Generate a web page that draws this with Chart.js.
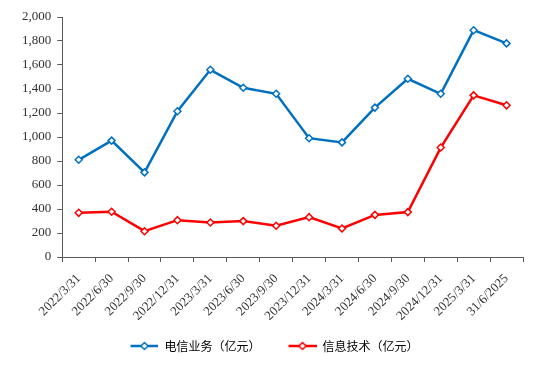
<!DOCTYPE html>
<html>
<head>
<meta charset="utf-8">
<script src="https://cdn.jsdelivr.net/npm/chart.js@4/dist/chart.umd.min.js"></script>
<style>
  html, body { margin: 0; padding: 0; background: #fff; }
  #wrap { width: 543px; height: 365px; }
</style>
</head>
<body>
<div id="wrap"><canvas id="myChart" width="543" height="365"></canvas></div>
<script>
var categories = ['2022/3/31', '2022/6/30', '2022/9/30', '2022/12/31', '2023/3/31', '2023/6/30', '2023/9/30',
  '2023/12/31', '2024/3/31', '2024/6/30', '2024/9/30', '2024/12/31', '2025/3/31', '31/6/2025'];
var telecom = [810, 970, 705, 1215, 1560, 1410, 1360, 990, 955, 1245, 1485, 1360, 1890, 1780];
var infoTech = [368, 377, 215, 307, 288, 299, 260, 332, 238, 351, 374, 912, 1347, 1264];
var seriesNames = ['电信业务（亿元）', '信息技术（亿元）'];
var yTicks = [0, 200, 400, 600, 800, 1000, 1200, 1400, 1600, 1800, 2000];

var blue = '#0070C0';
var red = '#FF0000';
var serif = "'Liberation Serif', 'Times New Roman', serif";

// legend icon: some blank space, then a line with a hollow diamond
function legendIcon(color) {
  var c = document.createElement('canvas');
  c.width = 38; c.height = 10;
  var g = c.getContext('2d');
  g.strokeStyle = color;
  g.lineWidth = 2.5;
  g.beginPath(); g.moveTo(10, 5); g.lineTo(38, 5); g.stroke();
  g.fillStyle = '#fff';
  g.lineWidth = 1.5;
  g.beginPath();
  g.moveTo(24, 1.5); g.lineTo(27.5, 5); g.lineTo(24, 8.5); g.lineTo(20.5, 5); g.closePath();
  g.fill(); g.stroke();
  return c;
}

var ctx = document.getElementById('myChart').getContext('2d');
var myChart = new Chart(ctx, {
  type: 'line',
  data: {
    labels: categories,
    datasets: [{
      label: seriesNames[0],
      data: telecom,
      borderColor: blue,
      backgroundColor: '#fff',
      borderWidth: 2.5,
      pointStyle: 'rectRot',
      pointRadius: 3.5,
      pointBorderWidth: 1.5,
      pointBackgroundColor: '#fff',
      pointBorderColor: blue,
      tension: 0
    }, {
      label: seriesNames[1],
      data: infoTech,
      borderColor: red,
      backgroundColor: '#fff',
      borderWidth: 2.5,
      pointStyle: 'rectRot',
      pointRadius: 3.5,
      pointBorderWidth: 1.5,
      pointBackgroundColor: '#fff',
      pointBorderColor: red,
      tension: 0
    }]
  },
  options: {
    responsive: false,
    animation: false,
    layout: { padding: { left: 16, right: 20, top: 17, bottom: 3 } },
    scales: {
      x: {
        offset: true,
        afterFit: function (scale) { scale.height = 65; },
        grid: { display: true, offset: true, drawOnChartArea: false, drawTicks: true, tickLength: 5, color: '#595959' },
        border: { color: '#595959', width: 1 },
        ticks: {
          autoSkip: false,
          maxRotation: 45,
          minRotation: 45,
          padding: 9,
          color: '#333',
          font: { family: serif, size: 13 }
        }
      },
      y: {
        min: 0,
        max: 2000,
        afterBuildTicks: function (axis) {
          axis.ticks = yTicks.map(function (v) { return { value: v }; });
        },
        grid: { display: true, drawOnChartArea: false, drawTicks: true, tickLength: 5, color: '#595959' },
        border: { color: '#595959', width: 1 },
        ticks: {
          padding: 6,
          color: '#333',
          font: { family: serif, size: 13 },
          callback: function (v) { return v.toLocaleString('en-US'); }
        }
      }
    },
    plugins: {
      legend: {
        position: 'bottom',
        labels: {
          usePointStyle: true,
          pointStyleWidth: 38,
          padding: 18,
          color: '#333',
          font: { family: "'Noto Sans CJK SC'", size: 12 },
          generateLabels: function (chart) {
            return chart.data.datasets.map(function (ds, i) {
              return {
                text: ds.label,
                pointStyle: legendIcon(ds.borderColor),
                fillStyle: '#fff',
                strokeStyle: ds.borderColor,
                lineWidth: 0,
                datasetIndex: i,
                hidden: false
              };
            });
          }
        }
      },
      tooltip: { enabled: false }
    }
  }
});
</script>
</body>
</html>
